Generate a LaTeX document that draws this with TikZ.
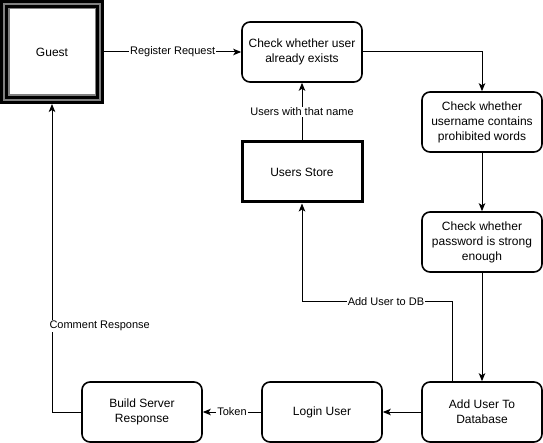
\documentclass[tikz,border=0pt]{standalone}
\usepackage{fontspec}
\setmainfont{Liberation Sans}
\usetikzlibrary{arrows.meta}

\begin{document}
\begin{tikzpicture}[x=1pt, y=-1pt,
procnode/.style={rectangle, rounded corners=8pt, draw=black, line width=1.6pt, minimum width=120pt, minimum height=60pt, align=center, inner sep=2pt, font=\fontsize{12}{15}\selectfont},
storenode/.style={rectangle, draw=black, line width=3pt, minimum width=120pt, minimum height=60pt, font=\fontsize{12}{15}\selectfont},
guestnode/.style={rectangle, draw=black, line width=3.25pt, double=gray, double distance=1.5pt, minimum size=96pt, outer sep=4pt, font=\fontsize{12}{15}\selectfont},
flow/.style={-{Stealth[length=8pt,width=6.5pt,inset=2pt]}, line width=1pt},
lbl/.style={fill=white, inner sep=1pt, font=\fontsize{11}{13}\selectfont}
]
    \useasboundingbox[fill=white] (0,0) rectangle (543,443);

    \node[guestnode] (guest) at (52,52){Guest};
    \draw[gray, line width=1.5pt] ([shift={(8.75,8.75)}]guest.north west) rectangle ([shift={(-8.75,-8.75)}]guest.south east);

    \node[procnode] (check) at (302,52){Check whether user\\already exists};
    \node[storenode] (store) at (302,172){Users Store};
    \node[procnode] (prohib) at (482,122){Check whether\\username contains\\prohibited words};
    \node[procnode] (passwd) at (482,242){Check whether\\password is strong\\enough};
    \node[procnode] (adduser) at (482,412){Add User To\\Database};
    \node[procnode] (login) at (322,412){Login User};
    \node[procnode] (build) at (142,412){Build Server\\Response};

    \draw[flow] (guest) edge node[lbl]{Register Request} (check);
    \draw[flow] (check.east) -| (prohib.north);
    \draw[flow] (store) edge node[lbl]{Users with that name} (check);
    \draw[flow] (prohib) edge (passwd);
    \draw[flow] (passwd) edge (adduser);

    \draw[flow] ([xshift=-30pt]adduser.north) -- ++(0,-80) -| node[lbl,pos=0.22]{Add User to DB} (store.south);
    \draw[flow] (adduser) edge (login);
    \draw[flow] (login) edge node[lbl]{Token} (build);
    \draw[flow] (build.west) -| node[lbl,pos=0.64,anchor=west,xshift=-4pt]{Comment Response} (guest.south);
\end{tikzpicture}
\end{document}
